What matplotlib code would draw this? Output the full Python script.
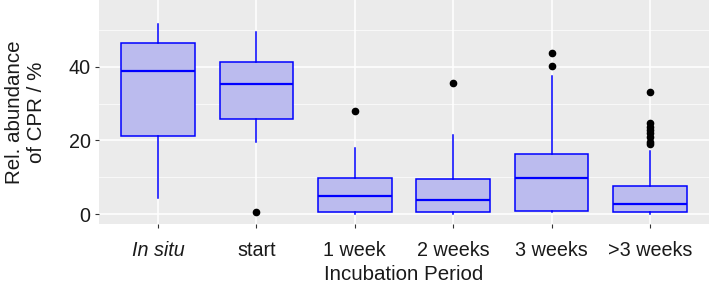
"""
Boxplot of relative CPR abundance per incubation period (ggplot-like look)
"""

import matplotlib
matplotlib.use("Agg")
from matplotlib import pyplot as plt
from matplotlib.ticker import MultipleLocator

CATEGORIES = ["In situ", "start", "1 week", "2 weeks", "3 weeks", ">3 weeks"]

# box statistics
WHISKER_LOW = [4.4, 19.5, 0.0, 0.0, 0.5, 0.0]
Q1 = [21.2, 25.9, 0.5, 0.5, 0.8, 0.5]
MEDIAN = [38.7, 35.4, 5.0, 3.8, 9.7, 2.6]
Q3 = [46.3, 41.4, 9.7, 9.4, 16.3, 7.7]
WHISKER_HIGH = [51.5, 49.3, 17.8, 21.4, 37.6, 17.2]
OUTLIERS = [
    [],
    [0.6],
    [28.1],
    [35.7],
    [43.6, 40.3],
    [33.0, 24.6, 23.7, 22.8, 21.9, 21.0, 19.6, 19.0],
]

BG = "#EBEBEB"
TEXT = "#1A1A1A"


def build_stats():
    stats = []
    for i, name in enumerate(CATEGORIES):
        stats.append({
            "label": name,
            "whislo": WHISKER_LOW[i],
            "q1": Q1[i],
            "med": MEDIAN[i],
            "q3": Q3[i],
            "whishi": WHISKER_HIGH[i],
            "fliers": OUTLIERS[i],
        })
    return stats


def main():
    plt.rcParams["font.family"] = ["Liberation Sans", "DejaVu Sans"]
    fig = plt.figure(figsize=(7.1, 2.86), dpi=100)
    ax = fig.add_axes([99 / 710, 62 / 286, 610 / 710, 224 / 286])
    ax.set_facecolor(BG)

    ax.bxp(
        build_stats(),
        positions=range(1, len(CATEGORIES) + 1),
        widths=0.75,
        patch_artist=True,
        boxprops=dict(facecolor="#BBBBEE", edgecolor="#0000FF", linewidth=1.1),
        medianprops=dict(color="#0000FF", linewidth=1.6),
        whiskerprops=dict(color="#0000FF", linewidth=1.1),
        capprops=dict(linewidth=0),
        flierprops=dict(marker="o", markerfacecolor="black",
                        markeredgecolor="black", markersize=4.5),
        zorder=3,
    )

    ax.set_xlim(0.4, 6.6)
    ax.set_ylim(-2.7, 58.1)
    ax.yaxis.set_major_locator(MultipleLocator(20))
    ax.yaxis.set_minor_locator(MultipleLocator(10))
    ax.grid(which="major", color="white", linewidth=1.1, zorder=0)
    ax.grid(which="minor", axis="y", color="white", linewidth=0.5, zorder=0)
    ax.set_axisbelow(True)
    for spine in ax.spines.values():
        spine.set_visible(False)

    ax.tick_params(axis="both", which="major", length=3, width=0.8,
                   color="#333333", labelsize=14.2, labelcolor=TEXT)
    ax.tick_params(axis="x", which="major", pad=9)
    ax.tick_params(axis="y", which="major", pad=3)
    ax.tick_params(axis="y", which="minor", length=0)
    ax.set_xticks(range(1, len(CATEGORIES) + 1))
    ax.set_xticklabels(CATEGORIES)
    ax.get_xticklabels()[0].set_fontstyle("italic")

    ax.set_xlabel("Incubation Period", fontsize=14.8, color=TEXT, labelpad=4)
    ax.set_ylabel("Rel. abundance\nof CPR / %", fontsize=14.8, color=TEXT,
                  labelpad=16, linespacing=1.25)

    fig.savefig("out.png", dpi=100)


if __name__ == "__main__":
    main()
